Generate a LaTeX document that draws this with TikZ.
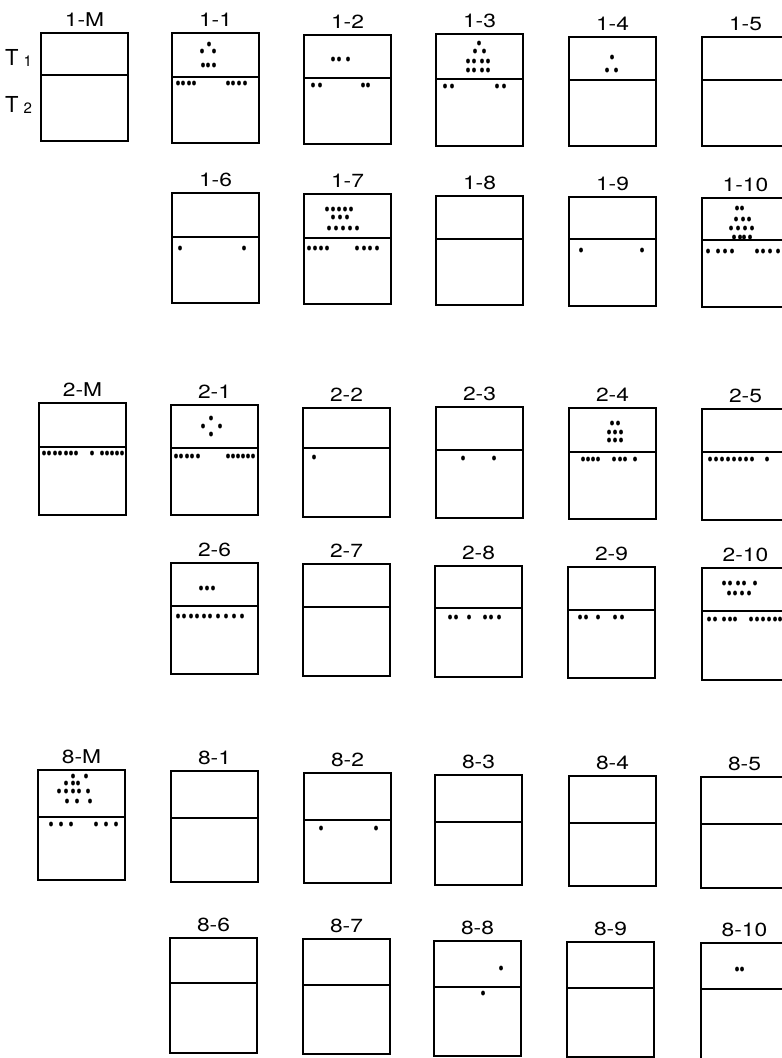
\documentclass[tikz,border=0pt]{standalone}
\usepackage{fontspec}
\setmainfont{TeX Gyre Heros}
\begin{document}
\begin{tikzpicture}[x=1pt,y=-1pt,
  boxst/.style={draw=black,line width=2.7pt,inner sep=0pt,outer sep=0pt,minimum width=87pt,anchor=north west},
  midst/.style={draw=black,line width=2pt},
  labst/.style={font=\fontsize{19}{19}\selectfont,inner sep=0pt,anchor=base,xscale=1.2},
  tst/.style={font=\fontsize{22}{22}\selectfont,inner sep=0pt,anchor=base west},
  dotst/.style={fill=black}]
\clip (0,0) rectangle (782,1058);
\fill[white] (0,0) rectangle (782,1058);
\newcommand\cellbox[6]{%
  \node[boxst,minimum height=#5pt-#3pt] (#1) at (#2,#3) {};
  \coordinate (#1m) at (#2,#4);
  \draw[midst] (#1.west |- #1m) -- (#1.east |- #1m);
  \node[labst] (#1l) at ([yshift=6.5pt]#1.north) {#6};}
\newcommand\rowdots[2]{\foreach \xx in {#2} \fill[dotst] (\xx,#1) ellipse [x radius=1.9pt,y radius=2.5pt];}
% row 1
\cellbox{b1M}{41}{33}{75}{141}{1-M}
\cellbox{b11}{172}{33}{77}{143}{1-1}
\cellbox{b12}{304}{35}{78}{144}{1-2}
\cellbox{b13}{436}{34}{79}{146}{1-3}
\cellbox{b14}{569}{37}{80}{146}{1-4}
\cellbox{b15}{702}{37}{80}{146}{1-5}
% row 2
\cellbox{b16}{172}{193}{237}{303}{1-6}
\cellbox{b17}{304}{194}{238}{304}{1-7}
\cellbox{b18}{436}{196}{239}{305}{1-8}
\cellbox{b19}{569}{197}{239}{306}{1-9}
\cellbox{b110}{702}{198}{240}{307}{1-10}
% row 3
\cellbox{b2M}{39}{403}{447}{515}{2-M}
\cellbox{b21}{171}{405}{448}{515}{2-1}
\cellbox{b22}{303}{408}{448}{517}{2-2}
\cellbox{b23}{436}{407}{450}{518}{2-3}
\cellbox{b24}{569}{408}{452}{519}{2-4}
\cellbox{b25}{702}{409}{452}{520}{2-5}
% row 4
\cellbox{b26}{171}{563}{606}{674}{2-6}
\cellbox{b27}{303}{564}{607}{676}{2-7}
\cellbox{b28}{435}{566}{608}{677}{2-8}
\cellbox{b29}{568}{567}{610}{678}{2-9}
\cellbox{b210}{702}{568}{611}{680}{2-10}
% row 5
\cellbox{b8M}{38}{770}{817}{880}{8-M}
\cellbox{b81}{171}{771}{818}{882}{8-1}
\cellbox{b82}{304}{773}{820}{883}{8-2}
\cellbox{b83}{435}{775}{822}{885}{8-3}
\cellbox{b84}{569}{776}{823}{886}{8-4}
\cellbox{b85}{701}{777}{824}{888}{8-5}
% row 6
\cellbox{b86}{170}{938}{983}{1053}{8-6}
\cellbox{b87}{303}{939}{985}{1054}{8-7}
\cellbox{b88}{434}{941}{987}{1056}{8-8}
\cellbox{b89}{567}{942}{988}{1057}{8-9}
\cellbox{b810}{701}{943}{989}{1059}{8-10}
% T labels
\node[tst] (t1) at (5,65) {T\kern5pt\raisebox{-1.5pt}{\fontsize{15}{15}\selectfont 1}};
\node[tst] (t2) at (5,112) {T\kern5pt\raisebox{-1.5pt}{\fontsize{15}{15}\selectfont 2}};
% dots
\rowdots{44}{209}\rowdots{51}{202,214}\rowdots{65}{203,208,214}
\rowdots{83}{178,183,189,194,228,233,239,245}
\rowdots{59}{333,339,348}\rowdots{85}{313,320,363,368}
\rowdots{43}{479}\rowdots{51}{475,484}\rowdots{61}{468,474,482,488}\rowdots{70}{468,474,482,488}
\rowdots{86}{445,452,497,504}
\rowdots{57}{612}\rowdots{70}{607,616}
\rowdots{248}{180,244}
\rowdots{209}{327,333,339,345,351}\rowdots{217}{333,340,347}\rowdots{228}{329,336,343,350,357}
\rowdots{248}{309,315,321,327,357,364,370,377}
\rowdots{250}{581,642}
\rowdots{208}{737,742}\rowdots{219}{736,743,749}\rowdots{228}{731,738,745,752}\rowdots{237}{734,740,744,750}
\rowdots{251}{708,718,725,732,757,763,770,778}
\rowdots{453}{44,49,55,60,66,71,76,92,102,107,112,117,122}
\rowdots{418}{211}\rowdots{426}{203,220}\rowdots{434}{211}
\rowdots{456}{176,181,187,192,198,228,233,238,243,248,253}
\rowdots{457}{314}
\rowdots{458}{463,494}
\rowdots{423}{612,618}\rowdots{432}{609,615,621}\rowdots{440}{609,615,621}
\rowdots{459}{583,588,593,598,614,620,625,635}
\rowdots{459}{710,716,722,728,734,740,746,752,767}
\rowdots{588}{201,207,213}\rowdots{616}{178,184,191,197,204,210,218,226,234,242}
\rowdots{617}{450,456,469,485,491,499}
\rowdots{617}{580,586,598,615,622}
\rowdots{583}{724,730,738,744,755}\rowdots{593}{729,735,742,749}
\rowdots{619}{709,715,724,730,735,751,757,763,769,775,780}
\rowdots{776}{73,86}\rowdots{783}{66,73,78}\rowdots{791}{59,66,73,79,88}\rowdots{801}{67,77,90}
\rowdots{824}{51,61,71,96,106,116}
\rowdots{828}{321,376}
\rowdots{968}{501}\rowdots{993}{483}
\rowdots{969}{737,742}
\end{tikzpicture}
\end{document}
